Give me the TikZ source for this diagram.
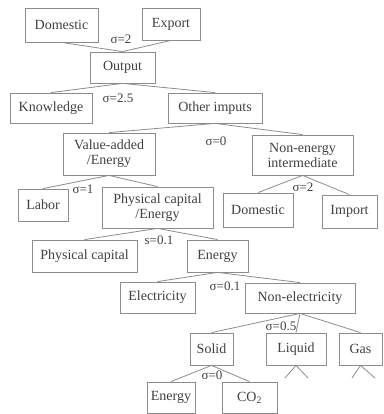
\documentclass[tikz,border=0pt]{standalone}
\usepackage{fontspec}
\setmainfont{Liberation Serif}
\usepackage{tikz}
\definecolor{boxgray}{rgb}{0.55,0.55,0.55}
\definecolor{inkgray}{rgb}{0.25,0.25,0.25}
\tikzset{
  nestbox/.style={draw=boxgray,line width=0.8pt,inner sep=0pt,align=center,
    minimum height=32pt,text=inkgray,font=\fontsize{14}{15}\selectfont},
  elas/.style={inner sep=0pt,text=inkgray,font=\fontsize{13}{14}\selectfont},
  link/.style={draw=boxgray,line width=0.8pt}
}
\begin{document}
\begin{tikzpicture}
  [x=1pt,y=-1pt]
  \useasboundingbox (0,0) rectangle (383,414);
  % top level
  \node[nestbox,minimum width=73pt,minimum height=34pt] (dom) at (61.5,25) {Domestic};
  \node[nestbox,minimum width=58pt] (exp) at (171,24) {Export};
  \node[nestbox,minimum width=65pt,minimum height=31pt] (out) at (122.5,67.5) {Output};
  \node[nestbox,minimum width=82pt,minimum height=30pt] (know) at (51,108) {Knowledge};
  \node[nestbox,minimum width=94pt,minimum height=30pt] (oth) at (215,108) {Other imputs};
  % second level
  \node[nestbox,minimum width=92pt,minimum height=42pt] (va) at (109,154) {Value-added\\/Energy};
  \node[nestbox,minimum width=101pt,minimum height=40pt] (ne) at (302.5,155) {Non-energy\\intermediate};
  \node[nestbox,minimum width=50pt] (lab) at (43,205) {Labor};
  \node[nestbox,minimum width=111pt,minimum height=41pt] (pce) at (157.5,207.5) {Physical capital\\/Energy};
  \node[nestbox,minimum width=70pt,minimum height=34pt] (dom2) at (258,210) {Domestic};
  \node[nestbox,minimum width=55pt,minimum height=33pt] (imp) at (349.5,211.5) {Import};
  % energy nest
  \node[nestbox,minimum width=105pt] (pc) at (84.5,256) {Physical capital};
  \node[nestbox,minimum width=61pt] (en) at (217.5,256) {Energy};
  \node[nestbox,minimum width=75pt,minimum height=31pt] (ele) at (157.5,297.5) {Electricity};
  \node[nestbox,minimum width=110pt,minimum height=30pt] (nel) at (300,298) {Non-electricity};
  \node[nestbox,minimum width=43pt] (sol) at (211.5,349) {Solid};
  \node[nestbox,minimum width=60pt] (liq) at (296,349) {Liquid};
  \node[nestbox,minimum width=43pt] (gas) at (360.5,349) {Gas};
  \node[nestbox,minimum width=48pt,minimum height=31pt] (en2) at (171,397.5) {Energy};
  \node[nestbox,minimum width=55pt,minimum height=31pt] (co2) at (249.5,397.5) {CO\textsubscript{2}};

  % elasticities
  \node[elas] (s1) at (121,39) {σ=2};
  \node[elas] (s2) at (118,98) {σ=2.5};
  \node[elas] (s3) at (216,141) {σ=0};
  \node[elas] (s4) at (83,189) {σ=1};
  \node[elas] (s5) at (303,187) {σ=2};
  \node[elas] (s6) at (159,240) {s=0.1};
  \node[elas] (s7) at (225,286) {σ=0.1};
  \node[elas] (s8) at (281,326) {σ=0.5};
  \node[elas] (s9) at (212,375) {σ=0};

  \foreach \from/\to in {dom/out,exp/out,out/know,out/oth,oth/va,oth/ne,
      va/lab,va/pce,ne/dom2,ne/imp,pce/pc,pce/en,en/ele,en/nel,
      nel/sol,nel/liq,nel/gas,sol/en2,sol/co2}
    \draw[link] (\from.south) -- (\to.north);

  % collapsed nests
  \coordinate (liqL) at (285,378);
  \coordinate (liqR) at (308,378);
  \coordinate (gasL) at (352,378);
  \coordinate (gasR) at (375,378);
  \draw[link] (liqL) -- (liq.south) -- (liqR);
  \draw[link] (gasL) -- (gas.south) -- (gasR);
\end{tikzpicture}
\end{document}
